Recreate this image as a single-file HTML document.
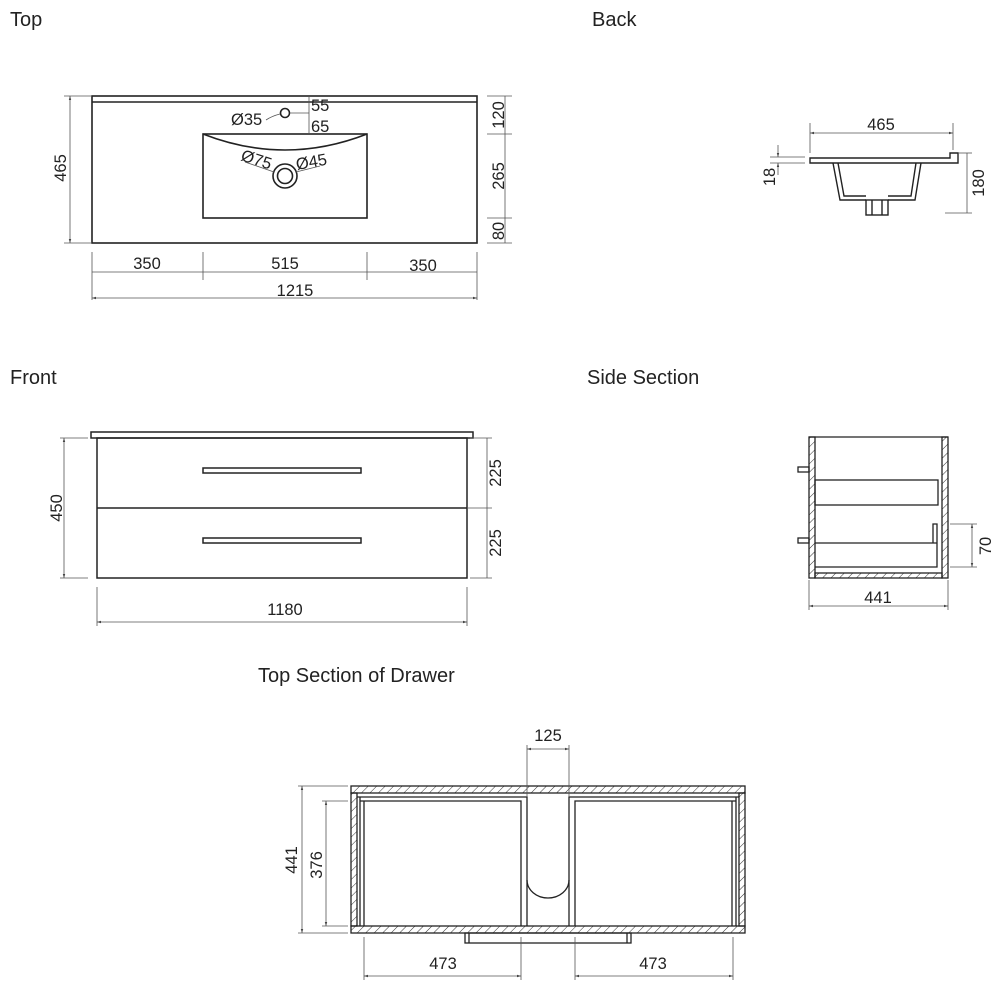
<!DOCTYPE html>
<html><head><meta charset="utf-8"><style>
html,body{margin:0;padding:0;background:#fff;}
svg{display:block;font-family:"Liberation Sans",sans-serif;}
</style></head><body>
<svg width="1000" height="1000" viewBox="0 0 1000 1000" xmlns="http://www.w3.org/2000/svg">
<defs>
<pattern id="h" width="6" height="6" patternUnits="userSpaceOnUse" patternTransform="rotate(45)">
<line x1="0" y1="0" x2="0" y2="6" stroke="#333" stroke-width="1"/>
</pattern>
<marker id="a" viewBox="0 0 10 10" refX="10" refY="5" markerWidth="5" markerHeight="5" orient="auto-start-reverse"><path d="M0,2 L10,5 L0,8z" fill="#444"/></marker>
</defs>
<g font-size="20" fill="#222">
<text x="10" y="26">Top</text>
<text x="592" y="26">Back</text>
<text x="10" y="384">Front</text>
<text x="587" y="384">Side Section</text>
<text x="258" y="682">Top Section of Drawer</text>
</g>
<g fill="none" stroke="#222" stroke-width="1.6">
<rect x="92" y="96" width="385" height="147"/>
<line x1="92" y1="102" x2="477" y2="102"/>
<rect x="203" y="134" width="164" height="84"/>
<path d="M203,134 Q285,166 367,134"/>
<circle cx="285" cy="113" r="4.5"/>
<circle cx="285" cy="176" r="12"/>
<circle cx="285" cy="176" r="7.5"/>
</g>
<g fill="none" stroke="#555" stroke-width="0.8">
<line x1="309" y1="96" x2="309" y2="134"/>
<line x1="290" y1="113" x2="309" y2="113"/>
<path d="M266,120 Q272,116 280,114"/>
<line x1="245" y1="162" x2="274" y2="172"/>
<line x1="296" y1="172" x2="320" y2="166"/>
<line x1="70" y1="96" x2="70" y2="243" marker-start="url(#a)" marker-end="url(#a)"/>
<line x1="64" y1="96" x2="92" y2="96"/><line x1="64" y1="243" x2="92" y2="243"/>
<line x1="505" y1="96" x2="505" y2="243"/>
<line x1="487" y1="96" x2="512" y2="96"/><line x1="487" y1="134" x2="512" y2="134"/><line x1="487" y1="218" x2="512" y2="218"/><line x1="487" y1="243" x2="512" y2="243"/>
<line x1="92" y1="272" x2="477" y2="272"/>
<line x1="92" y1="252" x2="92" y2="300"/><line x1="203" y1="252" x2="203" y2="280"/><line x1="367" y1="252" x2="367" y2="280"/><line x1="477" y1="252" x2="477" y2="300"/>
<line x1="92" y1="298" x2="477" y2="298" marker-start="url(#a)" marker-end="url(#a)"/>
</g>
<g font-size="16.5" fill="#222">
<text x="231" y="125">Ø35</text>
<text x="311" y="111">55</text>
<text x="311" y="132">65</text>
<text x="240" y="160" transform="rotate(18 240 160)">Ø75</text>
<text x="297" y="170" transform="rotate(-10 297 170)">Ø45</text>
<text transform="translate(66,168) rotate(-90)" text-anchor="middle">465</text>
<text transform="translate(504,115) rotate(-90)" text-anchor="middle">120</text>
<text transform="translate(504,176) rotate(-90)" text-anchor="middle">265</text>
<text transform="translate(504,231) rotate(-90)" text-anchor="middle">80</text>
<text x="147" y="269" text-anchor="middle">350</text>
<text x="285" y="269" text-anchor="middle">515</text>
<text x="423" y="271" text-anchor="middle">350</text>
<text x="295" y="296" text-anchor="middle">1215</text>
</g>
<g fill="none" stroke="#222" stroke-width="1.4">
<path d="M810,158 L950,158 L950,153 L958,153 L958,163 L810,163 Z"/>
<path d="M833,163 L840,200 L866,200 M888,200 L915,200 L921,163"/>
<path d="M838,163 L844,196 L866,196 M888,196 L911,196 L916,163"/>
<rect x="866" y="200" width="22" height="15"/>
<line x1="872" y1="200" x2="872" y2="215"/><line x1="882" y1="200" x2="882" y2="215"/>
</g>
<g fill="none" stroke="#555" stroke-width="0.8">
<line x1="810" y1="123" x2="810" y2="153"/><line x1="953" y1="123" x2="953" y2="150"/>
<line x1="810" y1="133" x2="953" y2="133" marker-start="url(#a)" marker-end="url(#a)"/>
<line x1="778" y1="145" x2="778" y2="157" marker-end="url(#a)"/>
<line x1="778" y1="175" x2="778" y2="163" marker-end="url(#a)"/>
<line x1="770" y1="157" x2="805" y2="157"/><line x1="770" y1="163" x2="805" y2="163"/>
<line x1="967" y1="153" x2="967" y2="213"/>
<line x1="958" y1="153" x2="972" y2="153"/><line x1="945" y1="213" x2="972" y2="213"/>
</g>
<g font-size="16.5" fill="#222">
<text x="881" y="130" text-anchor="middle">465</text>
<text transform="translate(775,177) rotate(-90)" text-anchor="middle">18</text>
<text transform="translate(984,183) rotate(-90)" text-anchor="middle">180</text>
</g>
<g fill="none" stroke="#222" stroke-width="1.5">
<rect x="91" y="432" width="382" height="6"/>
<rect x="97" y="438" width="370" height="140"/>
<line x1="97" y1="508" x2="467" y2="508"/>
<rect x="203" y="468" width="158" height="5"/>
<rect x="203" y="538" width="158" height="5"/>
</g>
<g fill="none" stroke="#555" stroke-width="0.8">
<line x1="64" y1="438" x2="64" y2="578" marker-start="url(#a)" marker-end="url(#a)"/>
<line x1="60" y1="438" x2="88" y2="438"/><line x1="60" y1="578" x2="88" y2="578"/>
<line x1="487" y1="438" x2="487" y2="578"/>
<line x1="470" y1="438" x2="492" y2="438"/><line x1="467" y1="508" x2="492" y2="508"/><line x1="470" y1="578" x2="492" y2="578"/>
<line x1="97" y1="587" x2="97" y2="626"/><line x1="467" y1="587" x2="467" y2="626"/>
<line x1="97" y1="622" x2="467" y2="622" marker-start="url(#a)" marker-end="url(#a)"/>
</g>
<g font-size="16.5" fill="#222">
<text transform="translate(62,508) rotate(-90)" text-anchor="middle">450</text>
<text transform="translate(501,473) rotate(-90)" text-anchor="middle">225</text>
<text transform="translate(501,543) rotate(-90)" text-anchor="middle">225</text>
<text x="285" y="615" text-anchor="middle">1180</text>
</g>
<g stroke="#222" stroke-width="1.3">
<rect x="809" y="437" width="6" height="141" fill="url(#h)"/>
<rect x="942" y="437" width="6" height="141" fill="url(#h)"/>
<rect x="815" y="573" width="127" height="5" fill="url(#h)"/>
<g fill="none">
<line x1="809" y1="437" x2="948" y2="437"/>
<rect x="815" y="480" width="123" height="25"/>
<path d="M815,543 L937,543 M815,567 L937,567 L937,524 L933,524 L933,543"/>
<rect x="798" y="467" width="11" height="5"/>
<rect x="798" y="538" width="11" height="5"/>
</g>
</g>
<g fill="none" stroke="#555" stroke-width="0.8">
<line x1="950" y1="524" x2="977" y2="524"/><line x1="950" y1="567" x2="977" y2="567"/>
<line x1="972" y1="524" x2="972" y2="567" marker-start="url(#a)" marker-end="url(#a)"/>
<line x1="809" y1="580" x2="809" y2="610"/><line x1="948" y1="580" x2="948" y2="610"/>
<line x1="809" y1="606" x2="948" y2="606" marker-start="url(#a)" marker-end="url(#a)"/>
</g>
<g font-size="16.5" fill="#222">
<text transform="translate(991,546) rotate(-90)" text-anchor="middle">70</text>
<text x="878" y="603" text-anchor="middle">441</text>
</g>
<g stroke="#222" stroke-width="1.3">
<rect x="351" y="786" width="394" height="7" fill="url(#h)"/>
<rect x="351" y="926" width="394" height="7" fill="url(#h)"/>
<rect x="351" y="793" width="6" height="133" fill="url(#h)"/>
<rect x="739" y="793" width="6" height="133" fill="url(#h)"/>
<g fill="none">
<path d="M357,797 L527,797 L527,926 M360,801 L521,801 L521,926 M360,797 L360,926 M364,801 L364,926"/>
<path d="M739,797 L569,797 L569,926 M736,801 L575,801 L575,926 M736,797 L736,926 M732,801 L732,926"/>
<path d="M527,880 A21,18 0 0 0 569,880"/>
<rect x="465" y="933" width="166" height="10"/>
<line x1="469" y1="933" x2="469" y2="943"/><line x1="627" y1="933" x2="627" y2="943"/>
</g>
</g>
<g fill="none" stroke="#555" stroke-width="0.8">
<line x1="527" y1="745" x2="527" y2="797"/><line x1="569" y1="745" x2="569" y2="797"/>
<line x1="527" y1="749" x2="569" y2="749" marker-start="url(#a)" marker-end="url(#a)"/>
<line x1="298" y1="786" x2="348" y2="786"/><line x1="298" y1="933" x2="348" y2="933"/>
<line x1="302" y1="786" x2="302" y2="933" marker-start="url(#a)" marker-end="url(#a)"/>
<line x1="322" y1="801" x2="348" y2="801"/><line x1="322" y1="926" x2="348" y2="926"/>
<line x1="326" y1="801" x2="326" y2="926" marker-start="url(#a)" marker-end="url(#a)"/>
<line x1="364" y1="937" x2="364" y2="980"/><line x1="521" y1="937" x2="521" y2="980"/>
<line x1="575" y1="937" x2="575" y2="980"/><line x1="733" y1="937" x2="733" y2="980"/>
<line x1="364" y1="976" x2="521" y2="976" marker-start="url(#a)" marker-end="url(#a)"/>
<line x1="575" y1="976" x2="733" y2="976" marker-start="url(#a)" marker-end="url(#a)"/>
</g>
<g font-size="16.5" fill="#222">
<text x="548" y="741" text-anchor="middle">125</text>
<text transform="translate(297,860) rotate(-90)" text-anchor="middle">441</text>
<text transform="translate(322,865) rotate(-90)" text-anchor="middle">376</text>
<text x="443" y="969" text-anchor="middle">473</text>
<text x="653" y="969" text-anchor="middle">473</text>
</g>
</svg>
</body></html>
